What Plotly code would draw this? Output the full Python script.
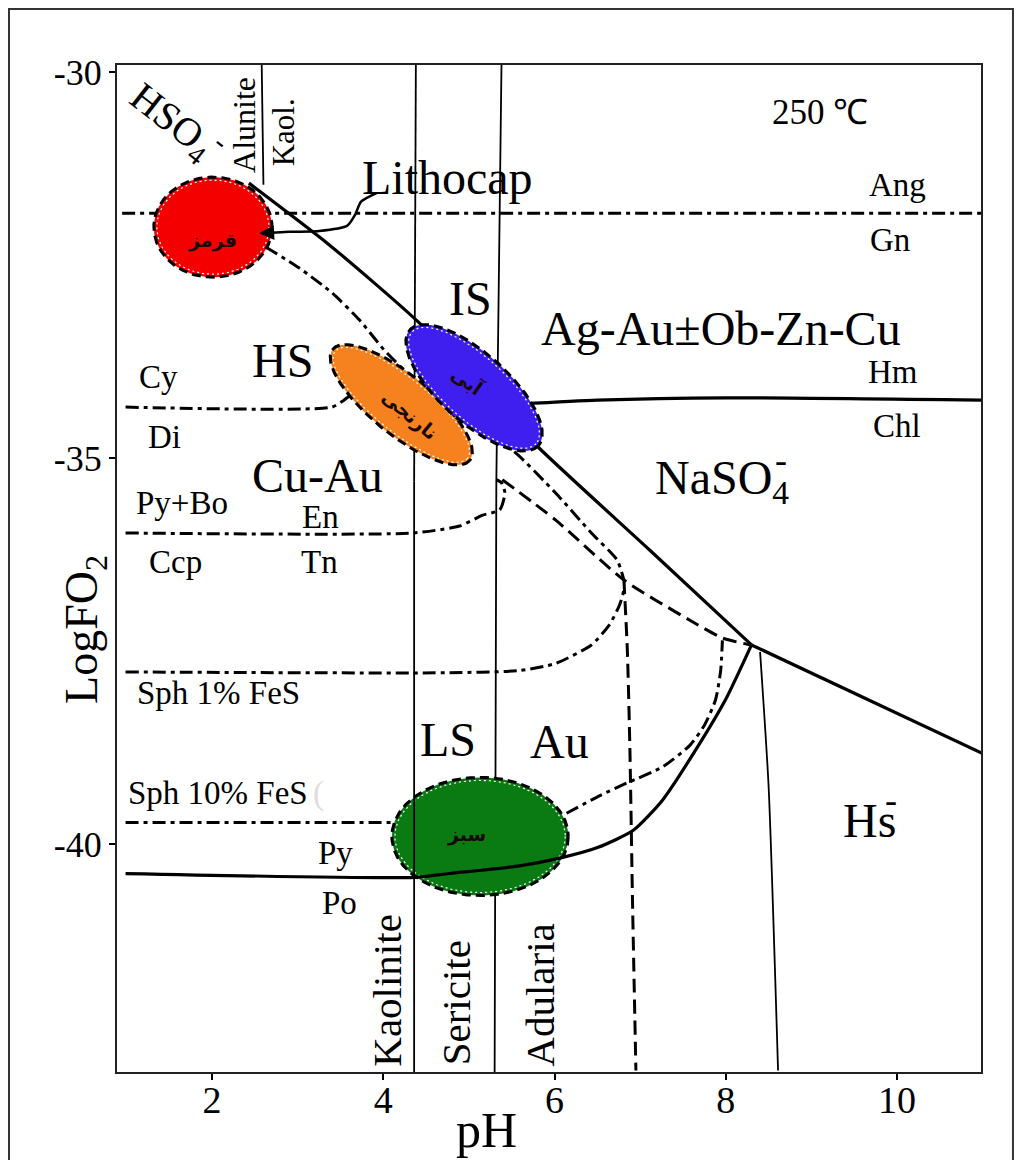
import numpy as np
import plotly.graph_objects as go

# ---------------- data (pH, log fO2) ----------------
x_tick_vals = [2, 4, 6, 8, 10]
x_tick_text = ["2", "4", "6", "8", "10"]
y_tick_vals = [-30, -35, -40]
y_tick_text = ["-30", "-35", "-40"]

# solid phase boundaries
sulfate_ph = [2.43, 3.37, 4.42, 5.81, 7.11, 8.30]
sulfate_fo2 = [-31.44, -32.24, -33.25, -34.86, -36.19, -37.42]
hs_ph = [8.30, 10.99]
hs_fo2 = [-37.42, -38.82]
hm_chl_ph = [5.60, 6.50, 8.00, 10.98]
hm_chl_fo2 = [-34.30, -34.25, -34.22, -34.25]
py_po_ph = [0.99, 4.36, 4.77, 5.59, 6.06, 6.51, 6.92, 7.26, 7.67, 8.01, 8.30]
py_po_fo2 = [-40.38, -40.43, -40.38, -40.28, -40.18, -40.04, -39.82, -39.43, -38.74, -38.10, -37.42]

# thin alteration boundaries
alunite_kaol_ph = [2.58, 2.60]
alunite_kaol_fo2 = [-29.91, -31.46]
kaol_ser_ph = [4.38, 4.36, 4.36]
kaol_ser_fo2 = [-29.91, -35.3, -42.95]
ser_adul_ph = [5.38, 5.32, 5.30]
ser_adul_fo2 = [-29.91, -35.3, -42.95]
hs_thin_ph = [8.40, 8.50, 8.61]
hs_thin_fo2 = [-37.51, -39.26, -42.93]

# dash-dot sulfide boundaries
ang_gn_ph = [0.95, 10.98]
ang_gn_fo2 = [-31.83, -31.83]
cy_di_ph = [0.99, 3.40, 3.54, 3.66]
cy_di_fo2 = [-34.34, -34.34, -34.25, -34.15]
bo_ccp_ph = [0.99, 4.34, 4.89, 5.16, 5.36, 5.42, 5.38, 5.32]
bo_ccp_fo2 = [-35.97, -35.97, -35.88, -35.74, -35.67, -35.45, -35.32, -35.28]
sph1_ph = [0.99, 4.77, 5.60, 6.01, 6.43, 6.64, 6.76, 6.81]
sph1_fo2 = [-37.77, -37.78, -37.75, -37.66, -37.42, -37.16, -36.90, -36.71]
sph10_ph = [0.99, 4.11]
sph10_fo2 = [-39.72, -39.72]
hso4_ph = [2.63, 3.02, 3.40, 3.72, 4.01, 4.42, 5.01, 5.51, 6.01, 6.43, 6.73, 6.81]
hso4_fo2 = [-32.27, -32.54, -32.86, -33.21, -33.60, -34.05, -34.57, -34.90, -35.45, -35.97, -36.32, -36.58]
au_ph = [6.14, 6.53, 6.84, 7.26, 7.58, 7.75, 7.88, 7.94, 7.96]
au_fo2 = [-39.60, -39.37, -39.21, -39.00, -38.72, -38.46, -38.13, -37.75, -37.36]

# dashed boundaries
en_tn_ph = [5.39, 6.01, 6.81, 7.58, 7.96, 8.29]
en_tn_fo2 = [-35.28, -35.80, -36.58, -37.10, -37.33, -37.42]
vert_dash_ph = [6.81, 6.85, 6.88, 6.91, 6.95]
vert_dash_fo2 = [-36.58, -37.49, -38.78, -40.73, -42.93]

# Lithocap pointer
litho_ph = [3.92, 3.74, 3.67, 3.58, 3.25, 2.90]
litho_fo2 = [-31.57, -31.68, -31.85, -31.99, -32.06, -32.07]

# deposit-type zones (centre pH, centre logfO2, semi-axes in pH units, tilt deg)
zone_names = ["قرمز", "نارنجی", "آبی", "سبز"]
zone_ph = [2.01, 4.21, 5.06, 5.13]
zone_fo2 = [-32.01, -34.31, -34.09, -39.90]
zone_major = [0.69, 1.03, 1.01, 1.03]
zone_minor = [0.585, 0.35, 0.40, 0.69]
zone_tilt = [0, 39, 42, 0]
zone_colors = ["#f40000", "#f5821f", "#3f1ff0", "#0a7a12"]
zone_text_ph = [2.00, 4.30, 4.98, 4.97]
zone_text_fo2 = [-32.18, -34.44, -33.99, -39.88]
zone_text_angle = [0, 40, 35, 0]

# ---------------- figure ----------------
X0, X1 = 0.89, 10.98
Y0, Y1 = -42.95, -29.91
W, H = 1015, 1152
ML, MR, MT, MB = 109, 42, 57, 88
PX_X = (W - ML - MR) / (X1 - X0)
PX_Y = (H - MT - MB) / (Y1 - Y0)
SERIF = "Liberation Serif, Times New Roman, serif"

fig = go.Figure()


def line(xs, ys, width=3, dash="solid", color="black", shape="linear"):
    fig.add_trace(go.Scatter(x=xs, y=ys, mode="lines", hoverinfo="skip",
                             line=dict(color=color, width=width, dash=dash, shape=shape, smoothing=0.6)))


DASHDOT = "13px,5px,4px,5px"
DASHED = "14px,7px"

# lines below the ellipses
line(alunite_kaol_ph, alunite_kaol_fo2, width=1.8)
line(kaol_ser_ph[:2], kaol_ser_fo2[:2], width=1.8)
line(ser_adul_ph, ser_adul_fo2, width=1.8)
line(hs_thin_ph, hs_thin_fo2, width=1.8, shape="spline")
line(ang_gn_ph, ang_gn_fo2, dash=DASHDOT)
line(cy_di_ph, cy_di_fo2, dash=DASHDOT, shape="spline")
line(bo_ccp_ph, bo_ccp_fo2, dash=DASHDOT, shape="spline")
line(sph1_ph, sph1_fo2, dash=DASHDOT, shape="spline")
line(sph10_ph, sph10_fo2, dash=DASHDOT)
line(hso4_ph, hso4_fo2, dash=DASHDOT, shape="spline")
line(au_ph, au_fo2, dash=DASHDOT, shape="spline")
line(en_tn_ph, en_tn_fo2, dash=DASHED, shape="spline")
line(vert_dash_ph, vert_dash_fo2, dash=DASHED, shape="spline")
line(sulfate_ph, sulfate_fo2, width=3.2, shape="spline")
line(hs_ph, hs_fo2, width=3.2)
line(hm_chl_ph, hm_chl_fo2, width=3.2, shape="spline")
line(litho_ph, litho_fo2, width=2.5, shape="spline")


def ellipse(cx, cy, a, b, tilt, n=240):
    t = np.linspace(0, 2 * np.pi, n)
    u, v = a * np.cos(t), b * np.sin(t)
    th = np.radians(tilt)
    dx = u * np.cos(th) - v * np.sin(th)
    dy = u * np.sin(th) + v * np.cos(th)
    return cx + dx, cy - dy * PX_X / PX_Y


for i in range(4):
    ex, ey = ellipse(zone_ph[i], zone_fo2[i], zone_major[i], zone_minor[i], zone_tilt[i])
    fig.add_trace(go.Scatter(x=ex, y=ey, mode="lines", fill="toself", fillcolor=zone_colors[i],
                             hoverinfo="skip", line=dict(color="black", width=3, dash="9px,5px")))
    ix, iy = ellipse(zone_ph[i], zone_fo2[i], zone_major[i] - 0.035, zone_minor[i] - 0.035, zone_tilt[i])
    fig.add_trace(go.Scatter(x=ix, y=iy, mode="lines", hoverinfo="skip",
                             line=dict(color="white", width=1.2, dash="2px,3px")))

# lines above the green zone
line(kaol_ser_ph[1:], kaol_ser_fo2[1:], width=1.8)
line(py_po_ph, py_po_fo2, width=3.2, shape="spline")

annotations = []


def label(text, x, y, size=33, angle=0, color="black", family=SERIF, xref="x", yref="y"):
    annotations.append(dict(text=text, x=x, y=y, xref=xref, yref=yref, showarrow=False,
                            textangle=angle, xanchor="center", yanchor="middle",
                            font=dict(family=family, size=size, color=color)))


BIG = 48
SMALL = 33
ROT = 41
label("HSO<sub>4</sub><sup>-</sup>", 1.59, -30.66, 40, 38)
label("Alunite", 2.37, -30.69, 32, -90)
label("Kaol.", 2.83, -30.78, 31, -90)
label("Lithocap", 4.75, -31.37, 48)
label("250 ℃", 9.10, -30.52, 35)
label("Ang", 10.01, -31.46, SMALL)
label("Gn", 9.92, -32.18, SMALL)
label("IS", 5.02, -32.94, BIG)
label("Ag-Au±Ob-Zn-Cu", 7.94, -33.32, BIG)
label("HS", 2.82, -33.73, BIG)
label("Cy", 1.38, -33.95, SMALL)
label("Hm", 9.95, -33.89, SMALL)
label("Di", 1.45, -34.73, SMALL)
label("Chl", 10.0, -34.59, SMALL)
label("NaSO<sub>4</sub>", 7.96, -35.30, BIG)
label("-", 8.64, -35.03, 36)
label("Cu-Au", 3.23, -35.22, BIG)
label("Py+Bo", 1.65, -35.58, SMALL)
label("En", 3.27, -35.76, SMALL)
label("Ccp", 1.57, -36.35, SMALL)
label("Tn", 3.25, -36.35, SMALL)
label("Sph 1% FeS", 2.07, -38.04, SMALL)
label("LS", 4.76, -38.65, BIG)
label("Au", 6.06, -38.67, BIG)
label("Sph 10% FeS", 2.07, -39.34, SMALL)
label("(", 3.24, -39.34, SMALL, color="#dddddd")
label("Hs", 9.68, -39.69, BIG)
label("-", 9.93, -39.43, 36)
label("Py", 3.44, -40.12, SMALL)
label("Po", 3.49, -40.76, SMALL)
label("Kaolinite", 4.05, -41.89, ROT, -90)
label("Sericite", 4.85, -42.06, ROT, -90)
label("Adularia", 5.82, -41.96, ROT, -90)
for i in range(4):
    label("<b>" + zone_names[i] + "</b>", zone_text_ph[i], zone_text_fo2[i], 19,
          zone_text_angle[i], color="#1a0808", family="DejaVu Sans, Noto Sans, sans-serif")

# axis titles
label("pH", 0.428, -0.0576, 50, xref="paper", yref="paper")
label("LogFO<sub>2</sub>", -0.037, 0.439, 46, -90, xref="paper", yref="paper")

# Lithocap arrow head
annotations.append(dict(x=2.55, y=-32.09, ax=2.92, ay=-32.07, xref="x", yref="y", axref="x", ayref="y",
                        text="", showarrow=True, arrowhead=2, arrowsize=1.2, arrowwidth=2.5,
                        arrowcolor="black"))

fig.update_layout(
    width=W, height=H, autosize=False, showlegend=False,
    margin=dict(l=ML, r=MR, t=MT, b=MB),
    paper_bgcolor="white", plot_bgcolor="white",
    annotations=annotations,
    xaxis=dict(range=[X0, X1], tickvals=x_tick_vals, ticktext=x_tick_text,
               ticks="outside", ticklen=6, tickwidth=2, tickcolor="black",
               ticklabelstandoff=-13,
               showline=True, linecolor="#222", linewidth=2, mirror=True,
               showgrid=False, zeroline=False,
               tickfont=dict(family=SERIF, size=38, color="black")),
    yaxis=dict(range=[Y0, Y1], tickvals=y_tick_vals, ticktext=y_tick_text,
               ticks="outside", ticklen=6, tickwidth=2, tickcolor="black",
               showline=True, linecolor="#222", linewidth=2, mirror=True,
               showgrid=False, zeroline=False,
               tickfont=dict(family=SERIF, size=36, color="black")),
    shapes=[dict(type="rect", xref="paper", yref="paper", x0=-0.125, x1=1.037, y0=-0.12, y1=1.0556,
                 line=dict(color="#333", width=2), fillcolor="rgba(0,0,0,0)", layer="below")],
)

fig.write_html("out.html")
